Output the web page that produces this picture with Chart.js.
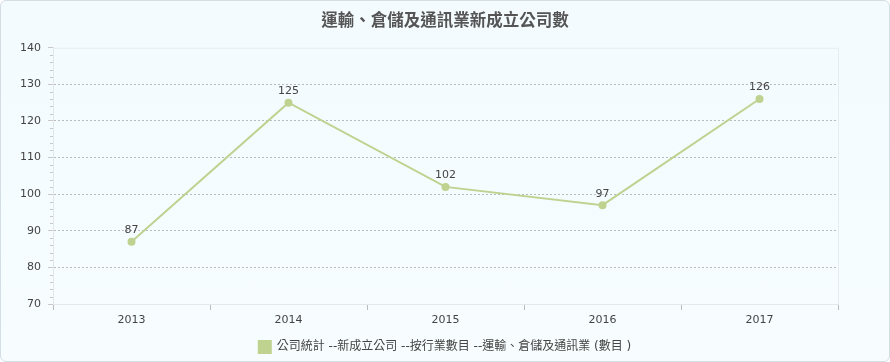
<!DOCTYPE html>
<html><head><meta charset="utf-8">
<script src="https://cdn.jsdelivr.net/npm/chart.js@4/dist/chart.umd.min.js"></script>
<style>
html,body{margin:0;padding:0;background:#fff;}
#wrap{position:relative;width:888px;height:360px;border:1px solid #d3dfe5;border-radius:6px;background:linear-gradient(#f3fbfe,#f7fdff);overflow:hidden;}
canvas{display:block;}
</style></head><body>
<div id="wrap"><canvas id="c" width="888" height="360"></canvas></div>
<script>
const title = "運輸、倉儲及通訊業新成立公司數";
const seriesName = "公司統計 --新成立公司 --按行業數目 --運輸、倉儲及通訊業 (數目 )";
const categories = ["2013","2014","2015","2016","2017"];
const values = [87,125,102,97,126];
const yMin = 70, yMax = 140, yStep = 10;

const fontCJK = "'DejaVu Sans','Noto Sans CJK TC',sans-serif";

const extras = {
  id:'extras',
  beforeDatasetsDraw(chart){
    const {ctx, chartArea:a, scales:{y}} = chart;
    ctx.save();
    ctx.strokeStyle = '#e6ecef'; ctx.lineWidth = 1;
    ctx.beginPath();
    ctx.moveTo(a.left, a.top+0.5); ctx.lineTo(a.right+0.5, a.top+0.5); ctx.lineTo(a.right+0.5, a.bottom);
    ctx.stroke();
    ctx.strokeStyle = '#c8c8c8';
    ctx.beginPath();
    for (let v = yMin; v <= yMax; v += 2) {
      if (v % yStep === 0) continue;
      const py = Math.round(y.getPixelForValue(v)) + 0.5;
      ctx.moveTo(a.left - 3, py); ctx.lineTo(a.left, py);
    }
    ctx.stroke();
    ctx.restore();
  },
  afterDatasetsDraw(chart){
    const {ctx} = chart;
    const meta = chart.getDatasetMeta(0);
    ctx.save();
    ctx.fillStyle = '#444';
    ctx.font = "11px 'DejaVu Sans', sans-serif";
    ctx.textAlign = 'center'; ctx.textBaseline = 'bottom';
    meta.data.forEach((pt,i)=>{
      ctx.fillText(String(values[i]), pt.x, pt.y - 6);
    });
    ctx.restore();
  }
};

new Chart(document.getElementById('c'), {
  type:'line',
  data:{labels:categories, datasets:[{
    label: seriesName,
    data: values,
    borderColor:'#bfd290',
    backgroundColor:'#bfd290',
    borderWidth:2,
    pointRadius:4,
    pointHoverRadius:4,
    pointBackgroundColor:'#bfd290',
    pointBorderWidth:0,
    tension:0
  }]},
  options:{
    responsive:false,
    animation:false,
    events:[],
    layout:{padding:{left:0,right:0,top:0,bottom:-2}},
    plugins:{
      title:{display:true,text:title,color:'#555',font:{family:fontCJK,size:16.5,weight:'bold'},padding:{top:11,bottom:16}},
      legend:{position:'bottom',labels:{color:'#444',font:{family:fontCJK,size:12},boxWidth:12,boxHeight:12,padding:6}},
      tooltip:{enabled:false}
    },
    scales:{
      x:{
        offset:true,
        grid:{offset:true,drawOnChartArea:false,color:'#bbb',tickLength:6},
        border:{color:'#e3e8ea'},
        ticks:{color:'#444',font:{family:"'DejaVu Sans',sans-serif",size:11},padding:4},
        afterFit(s){s.height = 31;}
      },
      y:{
        min:yMin,max:yMax,
        ticks:{stepSize:yStep,color:'#444',font:{family:"'DejaVu Sans',sans-serif",size:11},padding:7},
        grid:{color:(c)=> c.tick && c.tick.value===yMax ? 'rgba(0,0,0,0)' : '#bbb',tickColor:'#c8c8c8',tickLength:5,tickBorderDash:[]},
        border:{color:'#e3e8ea',dash:[2,2]},
        afterFit(s){s.width = 52;}
      },
      y2:{
        position:'right',
        min:yMin,max:yMax,
        grid:{display:false},
        border:{display:false},
        ticks:{display:false},
        afterFit(s){s.width = 51;}
      }
    }
  },
  plugins:[extras]
});
</script>
</body></html>
